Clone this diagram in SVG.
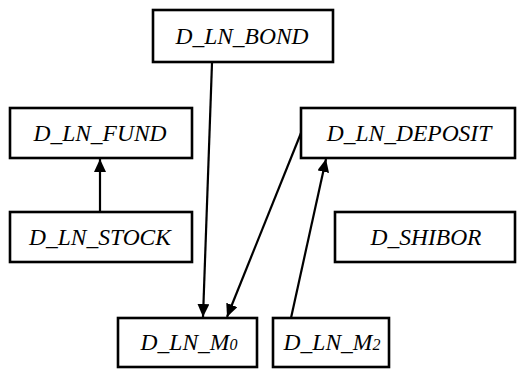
<svg xmlns="http://www.w3.org/2000/svg" width="517" height="369" viewBox="0 0 517 369">
<style>
.box{fill:#fff;stroke:#000;stroke-width:2.6}
.lbl{font-family:"Liberation Serif","Times New Roman",serif;font-style:italic;font-size:23.5px;fill:#000;text-anchor:middle}
.sub{font-size:16px}
.edge{stroke:#000;stroke-width:2.2;fill:none}
</style>
<defs>
<marker id="ah" markerUnits="userSpaceOnUse" markerWidth="14" markerHeight="12" refX="13" refY="6" orient="auto">
<path d="M0,0 L13,6 L0,12 Z" fill="#000"/>
</marker>
</defs>
<rect width="517" height="369" fill="#fff"/>
<g id="edges">
<line class="edge" x1="212" y1="63" x2="203" y2="317" marker-end="url(#ah)"/>
<line class="edge" x1="301" y1="133" x2="227" y2="317" marker-end="url(#ah)"/>
<line class="edge" x1="291" y1="318" x2="326" y2="159" marker-end="url(#ah)"/>
<line class="edge" x1="100" y1="212" x2="100" y2="159" marker-end="url(#ah)"/>
</g>
<g id="D_LN_BOND"><rect class="box" x="153" y="10" width="180" height="52"/><text class="lbl" x="242" y="44">D_LN_BOND</text></g>
<g id="D_LN_FUND"><rect class="box" x="10" y="108" width="182" height="50"/><text class="lbl" x="100" y="141">D_LN_FUND</text></g>
<g id="D_LN_STOCK"><rect class="box" x="10" y="212" width="182" height="50"/><text class="lbl" x="100" y="245">D_LN_STOCK</text></g>
<g id="D_LN_DEPOSIT"><rect class="box" x="301" y="108" width="214" height="50"/><text class="lbl" x="409" y="141">D_LN_DEPOSIT</text></g>
<g id="D_SHIBOR"><rect class="box" x="335" y="212" width="180" height="50"/><text class="lbl" x="426" y="245">D_SHIBOR</text></g>
<g id="D_LN_M0"><rect class="box" x="118" y="318" width="139" height="49"/><text class="lbl" x="189" y="350">D_LN_M<tspan class="sub">0</tspan></text></g>
<g id="D_LN_M2"><rect class="box" x="273" y="318" width="116" height="49"/><text class="lbl" x="332" y="350">D_LN_M<tspan class="sub">2</tspan></text></g>
</svg>
